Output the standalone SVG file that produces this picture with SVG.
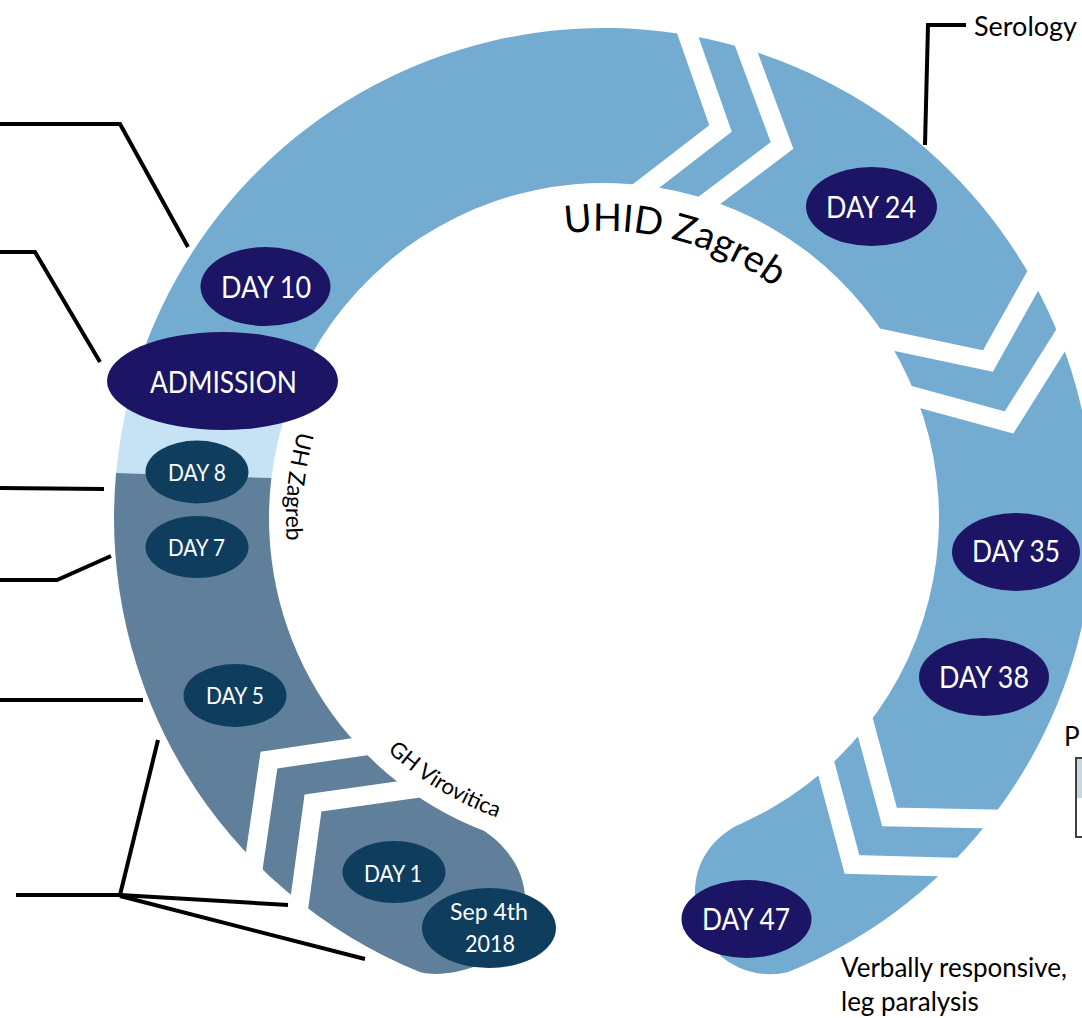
<svg xmlns="http://www.w3.org/2000/svg" width="1082" height="1018" viewBox="0 0 1082 1018">
<style>
.med{fill:#74ACD1}
.dark{fill:#5F7F9A}
.pale{fill:#C6E2F5}
.gap{fill:none;stroke:#fff;stroke-width:19;stroke-linejoin:miter;stroke-miterlimit:10;stroke-linecap:butt}
.navy{fill:#1C1464}
.teal{fill:#0F3D5E}
.lbl{font-family:Lato,"Open Sans",sans-serif;fill:#fff;text-anchor:middle}
.big{font-size:30px}
.small{font-size:23.5px}
.lead{fill:none;stroke:#000;stroke-width:4}
.txt{font-family:Lato,"Open Sans",sans-serif;fill:#000}
</style>
<defs>
<path id="pUHID" d="M529.7,240.8 A287,287 0 0 1 823.8,333.5"/>
<path id="pUH" d="M315.8,383.6 A318,318 0 0 0 296.8,600.3"/>
<path id="pGH" d="M343.5,700.4 A318,318 0 0 0 576.3,834.8"/>
</defs>
<rect width="1082" height="1018" fill="#fff"/>
<g id="ring">
<path class="med" d="M129.7,395 A490,490 0 1 1 787.6,972.3 C745,982 698,955 695,900 C693,862 712,840 734.9,826.4 A335,335 0 1 0 292.4,395 Z"/>
<path class="pale" d="M116.1,473 A490,490 0 0 1 129.7,395 L292.4,395 A335,335 0 0 0 271.4,478 Z"/>
<path class="dark" d="M116.1,473 A490,490 0 0 0 420.4,972.3 C455,980 522,960 525,905 C527,870 505,845 483.9,830.8 A335,335 0 0 1 271.4,478 Z"/>
<polyline class="gap" points="385,743 269,760 250,890"/>
<polyline class="gap" points="440,785 313,803 295,935"/>
<polyline class="gap" points="679,10 720.5,128.5 615,210"/>
<polyline class="gap" points="735.5,20 782,145.5 690,215"/>
<polyline class="gap" points="1050,250 988,361 860,334"/>
<polyline class="gap" points="1086,300 1009,422.5 890,390"/>
<polyline class="gap" points="1020,819.6 889.5,817 858,700"/>
<polyline class="gap" points="975,867.8 852,864.5 820,745"/>
</g>
<g id="ring-labels" class="txt">
<text font-size="38"><textPath href="#pUHID" startOffset="36">UHID Zagreb</textPath></text>
<text font-size="23"><textPath href="#pUH" startOffset="51">UH Zagreb</textPath></text>
<text font-size="22"><textPath href="#pGH" startOffset="67">GH Virovitica</textPath></text>
</g>
<g id="connectors">
<polyline class="lead" points="0,124 120,124 188,247"/>
<polyline class="lead" points="0,252 35,252 100,362"/>
<line class="lead" x1="0" y1="488" x2="104" y2="489"/>
<polyline class="lead" points="0,580 57,580 111,556"/>
<line class="lead" x1="0" y1="700" x2="143" y2="700"/>
<line class="lead" x1="16" y1="895" x2="120" y2="895"/>
<line class="lead" x1="120" y1="895" x2="158" y2="740"/>
<line class="lead" x1="120" y1="895" x2="288" y2="905"/>
<line class="lead" x1="120" y1="896" x2="365" y2="959"/>
<polyline class="lead" points="966,25 928,25 925,145"/>
</g>
<g id="day10"><ellipse class="navy" cx="265.5" cy="286.5" rx="65" ry="39.5"/><text class="lbl big" x="266" y="298" textLength="90" lengthAdjust="spacingAndGlyphs">DAY 10</text></g>
<g id="admission"><ellipse class="navy" cx="222.5" cy="381" rx="115.5" ry="49"/><text class="lbl big" x="223.5" y="393" textLength="147" lengthAdjust="spacingAndGlyphs">ADMISSION</text></g>
<g id="day8"><ellipse class="teal" cx="197" cy="472" rx="51.5" ry="31.5"/><text class="lbl small" x="197" y="481" textLength="58" lengthAdjust="spacingAndGlyphs">DAY 8</text></g>
<g id="day7"><ellipse class="teal" cx="197" cy="547" rx="51.5" ry="31"/><text class="lbl small" x="196.5" y="555.5" textLength="57" lengthAdjust="spacingAndGlyphs">DAY 7</text></g>
<g id="day5"><ellipse class="teal" cx="235" cy="695.5" rx="51.5" ry="31.5"/><text class="lbl small" x="235" y="704" textLength="58" lengthAdjust="spacingAndGlyphs">DAY 5</text></g>
<g id="day1"><ellipse class="teal" cx="394" cy="872" rx="51.5" ry="31"/><text class="lbl small" x="393" y="881.5" textLength="58" lengthAdjust="spacingAndGlyphs">DAY 1</text></g>
<g id="sep4"><ellipse class="teal" cx="489" cy="928" rx="67" ry="40"/><text class="lbl small" x="489" y="920" textLength="78" lengthAdjust="spacingAndGlyphs">Sep 4th</text><text class="lbl small" x="490" y="951.5" textLength="50" lengthAdjust="spacingAndGlyphs">2018</text></g>
<g id="day24"><ellipse class="navy" cx="871.5" cy="206.5" rx="65.5" ry="39.5"/><text class="lbl big" x="871" y="218" textLength="90" lengthAdjust="spacingAndGlyphs">DAY 24</text></g>
<g id="day35"><ellipse class="navy" cx="1016" cy="552" rx="64" ry="39"/><text class="lbl big" x="1016" y="562" textLength="88" lengthAdjust="spacingAndGlyphs">DAY 35</text></g>
<g id="day38"><ellipse class="navy" cx="984" cy="677" rx="65" ry="39"/><text class="lbl big" x="984" y="688" textLength="90" lengthAdjust="spacingAndGlyphs">DAY 38</text></g>
<g id="day47"><ellipse class="navy" cx="746.5" cy="919" rx="65" ry="39"/><text class="lbl big" x="746" y="930" textLength="88" lengthAdjust="spacingAndGlyphs">DAY 47</text></g>
<g id="serology"><text class="txt" x="974" y="36" font-size="27">Serology</text></g>
<g id="outcome"><text class="txt" x="841" y="977" font-size="26">Verbally responsive,</text><text class="txt" x="841" y="1011" font-size="26">leg paralysis</text></g>
<g id="legend"><text class="txt" x="1064" y="746" font-size="26">P</text><rect x="1076" y="758" width="30" height="79" fill="#fff" stroke="#404040" stroke-width="2"/><rect x="1077" y="759" width="28" height="39" fill="#C8D8E2"/></g>
</svg>
